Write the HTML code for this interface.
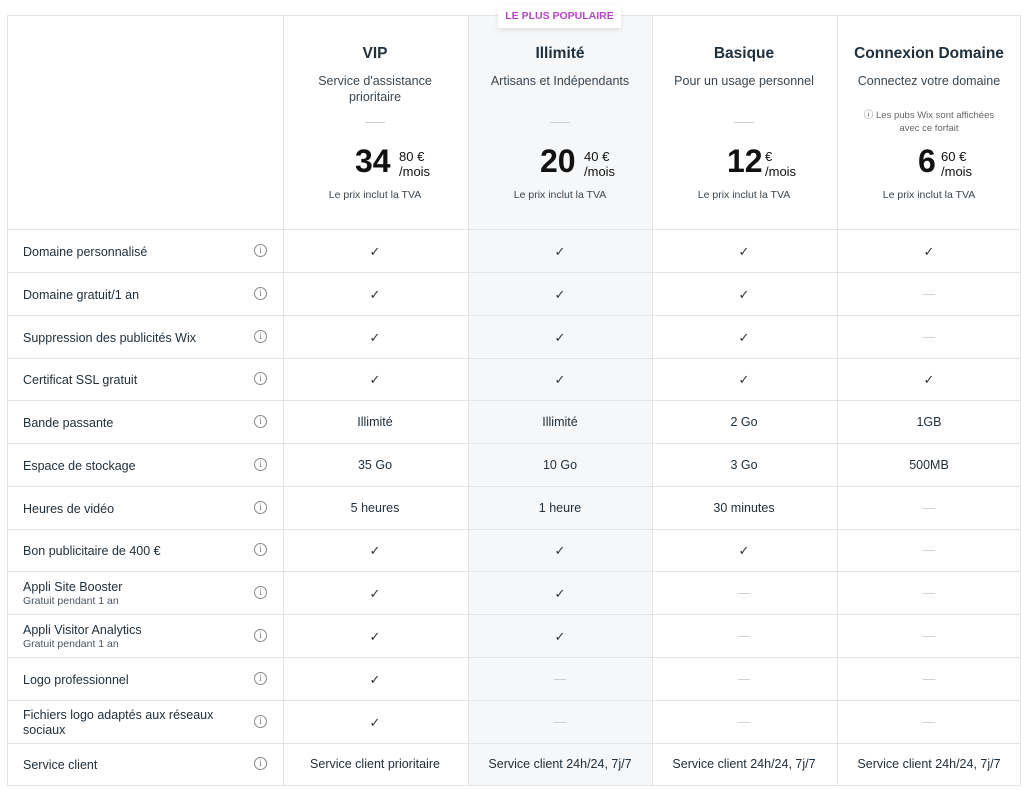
<!DOCTYPE html>
<html><head><meta charset="utf-8">
<style>
*{margin:0;padding:0;box-sizing:border-box}
body{width:1024px;height:790px;background:#fff;position:relative;overflow:hidden;font-family:"Liberation Sans",sans-serif;color:#20303c}
.a{position:absolute}
.hl{position:absolute;left:468px;top:15px;width:184px;height:770px;background:#f5f7f9}
.vl{position:absolute;top:15px;width:1px;height:770px;background:#e2e4e6}
.hr{position:absolute;left:7px;width:1013px;height:1px;background:#e2e4e6}
.c{position:absolute;text-align:center;width:184px}
.t{font-size:15.5px;font-weight:bold;top:45px}
.s{font-size:12.5px;top:73px;line-height:16px;color:#3a4650}
.dash{position:absolute;width:20px;height:1px;background:#ccc;top:122px}
.tva{font-size:10.5px;top:189px;color:#3a4650}
.big{position:absolute;font-size:32px;font-weight:bold;color:#111;top:143px}
.sm{position:absolute;font-size:13px;color:#111;line-height:15px;top:149px}
.lab{position:absolute;left:23px;font-size:12.5px;color:#20303c;line-height:15px}
.sub{font-size:10.5px;color:#4a5560;display:block;line-height:13px}
.i{position:absolute;left:254px;width:13px;height:13px;border:1px solid #888;border-radius:50%;font-size:9px;color:#777;text-align:center;line-height:11px;font-family:"Liberation Serif",serif}
.cell{position:absolute;width:184px;text-align:center;font-size:12.5px;color:#20303c}
.ck{font-size:13px;color:#333}
.no{color:#ccc}
</style></head><body>
<div class="hl"></div>
<div class="hr" style="top:15px"></div>
<div class="vl" style="left:7px"></div>
<div class="vl" style="left:283px"></div>
<div class="vl" style="left:468px"></div>
<div class="vl" style="left:652px"></div>
<div class="vl" style="left:837px"></div>
<div class="vl" style="left:1020px"></div>
<div class="a" style="left:498px;top:5px;width:123px;height:23px;background:#fff;box-shadow:0 2px 5px rgba(0,0,0,0.1);font-size:10.5px;font-weight:bold;color:#b548c6;text-align:center;line-height:23px">LE PLUS POPULAIRE</div>

<div class="c t" style="left:283px">VIP</div>
<div class="c t" style="left:468px">Illimité</div>
<div class="c t" style="left:652px">Basique</div>
<div class="c t" style="left:837px">Connexion Domaine</div>
<div class="c s" style="left:283px">Service d'assistance<br>prioritaire</div>
<div class="c s" style="left:468px">Artisans et Indépendants</div>
<div class="c s" style="left:652px">Pour un usage personnel</div>
<div class="c s" style="left:837px">Connectez votre domaine</div>
<div class="c" style="left:837px;top:109px;font-size:9.5px;line-height:13px;color:#666">ⓘ Les pubs Wix sont affichées<br>avec ce forfait</div>
<div class="dash" style="left:365px"></div>
<div class="dash" style="left:550px"></div>
<div class="dash" style="left:734px"></div>

<div class="big" style="left:355px">34</div><div class="sm" style="left:399px">80 €<br>/mois</div>
<div class="big" style="left:540px">20</div><div class="sm" style="left:584px">40 €<br>/mois</div>
<div class="big" style="left:727px">12</div><div class="sm" style="left:765px">€<br>/mois</div>
<div class="big" style="left:918px">6</div><div class="sm" style="left:941px">60 €<br>/mois</div>
<div class="c tva" style="left:283px">Le prix inclut la TVA</div>
<div class="c tva" style="left:468px">Le prix inclut la TVA</div>
<div class="c tva" style="left:652px">Le prix inclut la TVA</div>
<div class="c tva" style="left:837px">Le prix inclut la TVA</div>

<div id="rows"></div>
<script>
var tops=[229,272,315,358,400,443,486,529,571,614,657,700,743,785];
var rows=[
["Domaine personnalisé","","✓","✓","✓","✓"],
["Domaine gratuit/1 an","","✓","✓","✓","-"],
["Suppression des publicités Wix","","✓","✓","✓","-"],
["Certificat SSL gratuit","","✓","✓","✓","✓"],
["Bande passante","","Illimité","Illimité","2 Go","1GB"],
["Espace de stockage","","35 Go","10 Go","3 Go","500MB"],
["Heures de vidéo","","5 heures","1 heure","30 minutes","-"],
["Bon publicitaire de 400 €","","✓","✓","✓","-"],
["Appli Site Booster","Gratuit pendant 1 an","✓","✓","-","-"],
["Appli Visitor Analytics","Gratuit pendant 1 an","✓","✓","-","-"],
["Logo professionnel","","✓","-","-","-"],
["Fichiers logo adaptés aux réseaux<br>sociaux","","✓","-","-","-"],
["Service client","","Service client prioritaire","Service client 24h/24, 7j/7","Service client 24h/24, 7j/7","Service client 24h/24, 7j/7"]];
var L=[283,468,652,837],h='';
for(var k=0;k<tops.length;k++)h+='<div class="hr" style="top:'+tops[k]+'px"></div>';
rows.forEach(function(r,j){
 var y=tops[j],mid=(tops[j]+tops[j+1])/2;
 var lh=(r[1]||r[0].indexOf('<br>')>=0)?2:1;
 var lt=r[1]?mid-13:(lh==2?mid-14:mid-6);
 h+='<div class="lab" style="top:'+lt+'px">'+r[0]+(r[1]?'<span class="sub">'+r[1]+'</span>':'')+'</div>';
 h+='<div class="i" style="top:'+(mid-7)+'px">i</div>';
 for(var c=0;c<4;c++){var v=r[2+c];
  var cls=v=='✓'?'ck':(v=='-'?'no':'');if(v=='-')v='—';
  h+='<div class="cell '+cls+'" style="left:'+L[c]+'px;top:'+(mid-7)+'px">'+v+'</div>';}
});
document.getElementById('rows').innerHTML=h;
</script>
</body></html>
